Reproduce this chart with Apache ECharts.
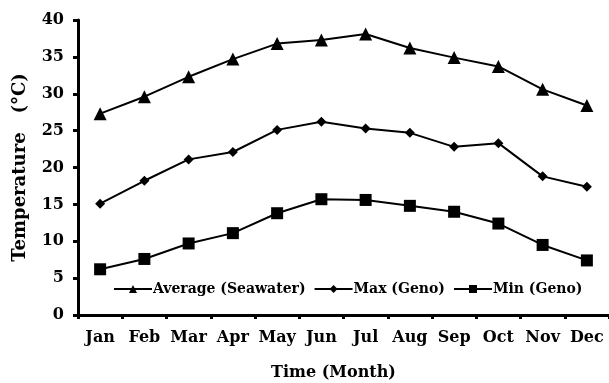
<!DOCTYPE html>
<html><head><meta charset="utf-8">
<script src="https://cdn.jsdelivr.net/npm/echarts@6/dist/echarts.min.js"></script>
<style>html,body{margin:0;padding:0;background:#fff}#c{width:609px;height:383px}</style>
</head><body><div id="c"></div>
<script>
const months = ['Jan','Feb','Mar','Apr','May','Jun','Jul','Aug','Sep','Oct','Nov','Dec'];
const avgSeawater = [27.3, 29.6, 32.3, 34.7, 36.8, 37.3, 38.1, 36.2, 34.9, 33.7, 30.6, 28.4];
const maxGeno = [15.1, 18.2, 21.1, 22.1, 25.1, 26.2, 25.3, 24.7, 22.8, 23.3, 18.8, 17.4];
const minGeno = [6.2, 7.6, 9.7, 11.1, 13.8, 15.7, 15.6, 14.8, 14.0, 12.4, 9.5, 7.4];
const yTicks = [0, 5, 10, 15, 20, 25, 30, 35, 40];
const font = '"DejaVu Serif", serif';
const chart = echarts.init(document.getElementById('c'));
const mk = (name, data, symbol, size) => ({
  name, type: 'line', data, symbol, symbolSize: size, showSymbol: true,
  lineStyle: {color: '#000', width: 2}, itemStyle: {color: '#000'}, animation: false
});
chart.setOption({
  animation: false,
  grid: {left: 78, right: 0, top: 20, bottom: 68, containLabel: false, outerBoundsMode: 'none'},
  legend: {
    left: 108, top: 277, itemGap: 8, itemWidth: 38, itemHeight: 10,
    textStyle: {fontFamily: font, fontWeight: 'bold', fontSize: 14, color: '#000', padding: [0,0,0,-4]},
    data: ['Average (Seawater)', 'Max (Geno)', 'Min (Geno)']
  },
  xAxis: {
    type: 'category', data: months, boundaryGap: true,
    axisLine: {lineStyle: {color: '#000', width: 3}},
    axisTick: {show: true, length: 4, lineStyle: {color: '#000', width: 3}},
    axisLabel: {interval: 0, fontFamily: font, fontWeight: 'bold', fontSize: 16, color: '#000', margin: 15},
    name: 'Time (Month)', nameLocation: 'middle', nameGap: 50,
    nameTextStyle: {fontFamily: font, fontWeight: 'bold', fontSize: 16, color: '#000', padding: [0, 20, 0, 0]}
  },
  yAxis: {
    type: 'value', min: yTicks[0], max: yTicks[yTicks.length-1], interval: 5,
    splitLine: {show: false},
    axisLine: {show: true, lineStyle: {color: '#000', width: 3}},
    axisTick: {show: true, length: 5, lineStyle: {color: '#000', width: 3}},
    axisLabel: {fontFamily: font, fontWeight: 'bold', fontSize: 16, color: '#000', margin: 14},
    name: 'Temperature   (°C)', nameLocation: 'middle', nameGap: 49,
    nameTextStyle: {fontFamily: font, fontWeight: 'bold', fontSize: 18, color: '#000'}
  },
  series: [
    mk('Average (Seawater)', avgSeawater, 'triangle', 13),
    mk('Max (Geno)', maxGeno, 'diamond', 10),
    mk('Min (Geno)', minGeno, 'rect', 12)
  ]
});
</script></body></html>
